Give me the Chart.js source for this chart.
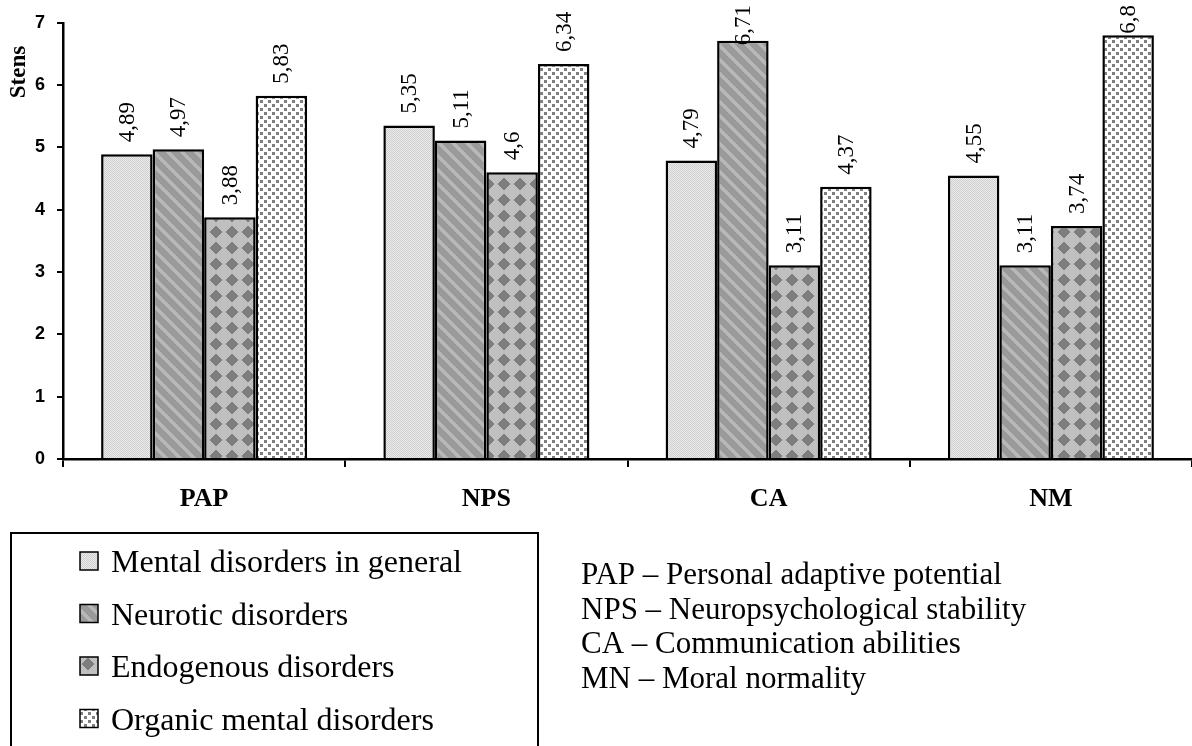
<!DOCTYPE html>
<html>
<head>
<meta charset="utf-8">
<script src="https://cdn.jsdelivr.net/npm/chart.js@4/dist/chart.umd.min.js"></script>
<style>
  body { margin: 0; background: #fff; }
  canvas { display: block; }
</style>
</head>
<body>
<canvas id="chart" width="1192" height="746"></canvas>
<script>
const categories = ["PAP", "NPS", "CA", "NM"];
const seriesNames = [
  "Mental disorders in general",
  "Neurotic disorders",
  "Endogenous disorders",
  "Organic mental disorders",
];
const mentalGeneral = [4.89, 5.35, 4.79, 4.55];
const neurotic = [4.97, 5.11, 6.71, 3.11];
const endogenous = [3.88, 4.6, 3.11, 3.74];
const organic = [5.83, 6.34, 4.37, 6.8];
const yTicks = [0, 1, 2, 3, 4, 5, 6, 7];
const abbreviations = [
  "PAP – Personal adaptive potential",
  "NPS – Neuropsychological stability",
  "CA – Communication abilities",
  "MN – Moral normality",
];

const ctx = document.getElementById("chart").getContext("2d");

// little tiles for the hatch fills
function makePattern(size, paint) {
  const c = document.createElement("canvas");
  c.width = size;
  c.height = size;
  const g = c.getContext("2d");
  paint(g, size);
  return ctx.createPattern(c, "repeat");
}

const dither = makePattern(2, (g) => {
  g.fillStyle = "#ebebeb";
  g.fillRect(0, 0, 2, 2);
  g.fillStyle = "#cfcfcf";
  g.fillRect(0, 0, 1, 1);
  g.fillRect(1, 1, 1, 1);
});

const stripes = makePattern(14, (g, s) => {
  g.fillStyle = "#9a9a9a";
  g.fillRect(0, 0, s, s);
  g.fillStyle = "#b8b8b8";
  for (let y = 0; y < s; y++) {
    for (let x = 0; x < s; x++) {
      if ((((x - y) % s) + s) % s < 5) g.fillRect(x, y, 1, 1);
    }
  }
});

const diamonds = makePattern(16, (g, s) => {
  g.fillStyle = "#c0c0c0";
  g.fillRect(0, 0, s, s);
  g.fillStyle = "#7e7e7e";
  for (let y = 0; y < s; y++) {
    for (let x = 0; x < s; x++) {
      if (Math.abs(x - 7.5) + Math.abs(y - 7.5) < 7) g.fillRect(x, y, 1, 1);
    }
  }
});

const dots = makePattern(8, (g) => {
  g.fillStyle = "#ffffff";
  g.fillRect(0, 0, 8, 8);
  g.fillStyle = "#7f7f7f";
  g.fillRect(0, 0, 3, 3);
  g.fillRect(4, 4, 3, 3);
});

const fills = [dither, stripes, diamonds, dots];
const values = [mentalGeneral, neurotic, endogenous, organic];

const extras = {
  id: "extras",
  afterDatasetsDraw(chart) {
    const c = chart.ctx;
    c.save();
    c.fillStyle = "#000";
    c.font = "23px 'Liberation Serif'";
    c.textAlign = "left";
    c.textBaseline = "middle";
    chart.data.datasets.forEach((ds, i) => {
      chart.getDatasetMeta(i).data.forEach((bar, j) => {
        const txt = String(ds.data[j]).replace(".", ",");
        const w = c.measureText(txt).width;
        let start = bar.y - 12;
        // labels near the top get pushed down onto the bar, like excel does
        if (start - w < 5) start = 5 + w;
        c.save();
        c.translate(bar.x, start);
        c.rotate(-Math.PI / 2);
        c.fillText(txt, 0, 1);
        c.restore();
      });
    });
    c.restore();
  },
  afterDraw(chart) {
    const c = chart.ctx;
    c.save();
    // y title
    c.fillStyle = "#000";
    c.font = "bold 23px 'Liberation Serif'";
    c.textAlign = "center";
    c.textBaseline = "middle";
    c.translate(19, 72);
    c.rotate(-Math.PI / 2);
    c.fillText("Stens", 0, 0);
    c.restore();

    // legend box
    c.save();
    c.lineWidth = 2;
    c.strokeStyle = "#000";
    c.strokeRect(11, 533, 527, 240);
    c.font = "32px 'Liberation Serif'";
    c.textBaseline = "alphabetic";
    c.textAlign = "left";
    seriesNames.forEach((name, i) => {
      const base = 572 + i * 52.5;
      c.fillStyle = fills[i];
      c.fillRect(80, base - 20, 18, 18);
      c.lineWidth = 1.5;
      c.strokeRect(80, base - 20, 18, 18);
      c.fillStyle = "#000";
      c.fillText(name, 111, base);
    });
    c.font = "31px 'Liberation Serif'";
    abbreviations.forEach((t, i) => {
      c.fillText(t, 581, 584 + i * 34.7);
    });
    c.restore();
  },
};

new Chart(ctx, {
  type: "bar",
  data: {
    labels: categories,
    datasets: seriesNames.map((name, i) => ({
      label: name,
      data: values[i],
      backgroundColor: fills[i],
      borderColor: "#000",
      borderWidth: 2.5,
      categoryPercentage: 0.73,
      barPercentage: 1,
    })),
  },
  options: {
    responsive: false,
    animation: false,
    layout: { padding: { top: 20, left: 0, right: 0, bottom: 0 } },
    plugins: {
      legend: { display: false },
      tooltip: { enabled: false },
    },
    scales: {
      x: {
        afterFit: (s) => { s.height = 746 - 20 - 439; },
        grid: { drawOnChartArea: false, tickLength: 8, color: "#000", lineWidth: 2, offset: true },
        border: { color: "#000", width: 2.5 },
        ticks: {
          color: "#000",
          padding: 17,
          font: { family: "'Liberation Serif'", size: 26, weight: "bold" },
        },
      },
      y: {
        min: 0,
        max: 7,
        afterFit: (s) => { s.width = 63; },
        afterBuildTicks: (s) => { s.ticks = yTicks.map((v) => ({ value: v })); },
        grid: { drawOnChartArea: false, tickLength: 6, color: "#000", lineWidth: 2 },
        border: { color: "#000", width: 2.5 },
        ticks: {
          color: "#000",
          padding: 12,
          font: { family: "'Liberation Sans'", size: 18, weight: "bold" },
        },
      },
    },
  },
  plugins: [extras],
});
</script>
</body>
</html>
